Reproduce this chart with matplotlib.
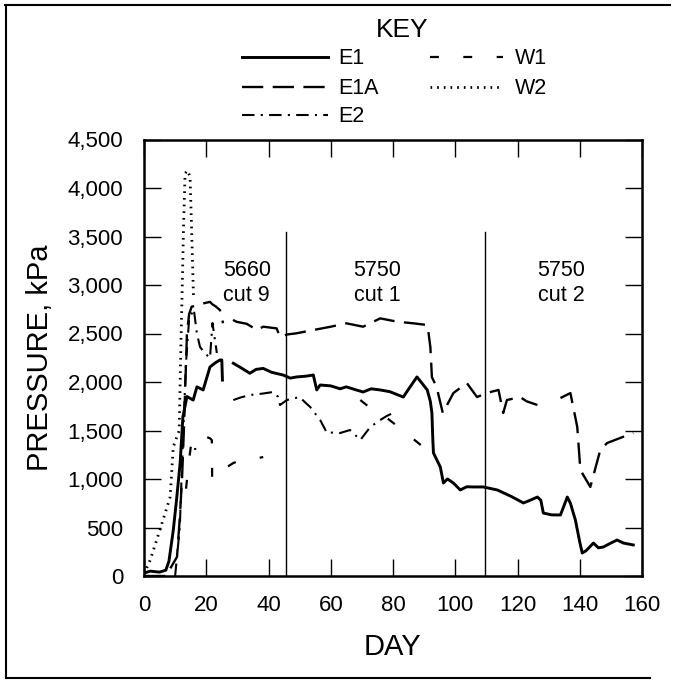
import numpy as np
import matplotlib
matplotlib.use("Agg")
import matplotlib.pyplot as plt
from matplotlib.lines import Line2D

plt.rcParams['font.family'] = ['Liberation Sans', 'DejaVu Sans']

nan = np.nan

# gauge readings (day, kPa); nan = gap in record
e1_day = [0, 2, 5, 7, 8, 9.4, 10.5, 11.6, 12.5, 13.8, 15.8, 17, 19, 21.2, 23, 24.4, 25, 25.2, 25.3,
          28.7, 31, 34, 36, 38.3, 41, 44.7, 47, 49, 52, 54.4, 55.5, 56.6, 60, 63, 65, 68, 70.4, 73,
          75.9, 79, 83.3, 85.5, 87.7, 89, 91, 92, 92.5, 92.8, 93, 95.2, 96.2, 97.5, 99.4, 101.6,
          103.7, 105.8, 109, 113.5, 118, 121.9, 124, 126.4, 127.5, 128.3, 131, 133.8, 136, 137,
          138.6, 140, 140.8, 142, 144.4, 146, 147.6, 150, 152, 154, 157.2]
e1_kpa = [30, 50, 40, 60, 150, 470, 800, 1160, 1640, 1850, 1814, 1950, 1918, 2155, 2200, 2227, 2227, 2020, nan,
          2193, 2150, 2090, 2130, 2140, 2100, 2072, 2040, 2052, 2060, 2072, 1918, 1969, 1960, 1930, 1950, 1920, 1897, 1930,
          1918, 1900, 1845, 1950, 2052, 2000, 1918, 1800, 1680, 1400, 1268, 1124, 959, 1000, 959, 887,
          920, 918, 918, 887, 820, 753, 780, 814, 780, 649, 630, 629, 814, 750,
          577, 350, 237, 260, 340, 290, 299, 340, 371, 340, 320]

e1a_day = [0, 7, 10.6, 11.5, 12.2, 12.8, 13.3, 13.8, 14.5, 15.3, 17, 19, 21.2, 22, 23, 24.4, 25.4, 26,
           28.6, 29.8, 33, 36.3, 38.3, 42.6, 43.7, 46, 49, 54.4, 60, 65, 70.4, 75.9, 81.3, 86.5, 91,
           91.3, 92, 92.5, 94, 96, 99.4, 103.7, 107, 110, 113.9, 115.4, 116.6, 120.8, 123, 126.4,
           130, 133.8, 137, 139.2, 140.2, 143.4, 146.6, 148.8, 153, 157.2]
e1a_kpa = [0, 0, 196, 600, 990, 1500, 2000, 2500, 2700, 2776, 2790, 2810, 2826, 2800, 2780, 2742, 2606, nan,
           2640, 2620, 2600, 2536, 2570, 2553, 2464, 2490, 2502, 2536, 2570, 2605, 2570, 2656, 2622, 2605, 2588,
           2536, 2360, 2050, 1950, 1680, 1886, 1990, 1845, 1886, 1918, 1680, 1814, 1845, 1800, 1763,
           nan, 1835, 1886, 1536, 1093, 918, 1299, 1371, 1423, 1474]

e2_day = [10, 11.5, 12.5, 13.5, 14.5, 16, 17, 18, 19.5, 21.2, 22, 23.4, 24,
          28.7, 31, 34, 38, 41.5, 43, 43.7, 45.9, 50, 52, 53.4, 56.6, 58.8, 61, 63, 66.2, 69.5, 72.7,
          75.9, 78, 80]
e2_kpa = [0, 500, 1400, 2200, 2650, 2750, 2500, 2361, 2300, 2247, 2608, 2299, nan,
          1814, 1840, 1866, 1880, 1897, 1850, 1763, 1814, 1845, 1783, 1742, 1608, 1474, 1480, 1474, 1505, 1402, 1536,
          1608, 1650, 1680]

w1_day = [13.5, 14.5, 15.5, 16.5, 17, 20.3, 21.2, 21.8, 21.9, 22.3, 23, 27, 28.7, 31, 34, 36, 38.3, 40,
          69.5, 72, 76, 80, 84.5, 87, 89.7, 92, 94]
w1_kpa = [900, 1200, 1450, 1300, nan, 1430, 1420, 1400, 1000, 800, nan, 1130, 1165, 1190, 1196, 1210, 1227, nan,
          1814, 1750, 1680, 1580, 1474, 1400, 1330, 1250, 1165]

w2_day = [0, 2, 5.1, 8.4, 9.4, 11.3, 11.8, 12.3, 12.7, 13.2, 14, 14.8, 15.3, 15.9]
w2_kpa = [20, 165, 474, 814, 1330, 1500, 2300, 3000, 3600, 4151, 4180, 4116, 3567, 2880]

cut_days = [45.5, 109.5]
cut_labels = [(33, "5660\ncut 9"), (75, "5750\ncut 1"), (134, "5750\ncut 2")]

W, H = 675, 680
fig = plt.figure(figsize=(W / 100, H / 100), dpi=100)
ax = fig.add_axes([144 / W, 1 - 576 / H, (642 - 144) / W, (576 - 139.5) / H])

styles = {
    "E1": dict(color="black", lw=2.1, linestyle="-"),
    "E1A": dict(color="black", lw=1.7, linestyle=(0, (9, 4))),
    "E2": dict(color="black", lw=1.5, linestyle=(0, (6, 3, 1, 3))),
    "W1": dict(color="black", lw=1.6, linestyle=(0, (4, 11))),
    "W2": dict(color="black", lw=2.0, linestyle=(0, (0.6, 1.8))),
}

ax.plot(e1_day, e1_kpa, **styles["E1"])
ax.plot(e1a_day, e1a_kpa, **styles["E1A"])
ax.plot(e2_day, e2_kpa, **styles["E2"])
ax.plot(w1_day, w1_kpa, **styles["W1"])
ax.plot(w2_day, w2_kpa, **styles["W2"])

for d in cut_days:
    ax.plot([d, d], [0, 3550], color="black", lw=1.0)
for d, txt in cut_labels:
    ax.text(d, 3020, txt, ha="center", va="center", fontsize=15.5, linespacing=1.25)

ax.set_xlim(0, 160)
ax.set_ylim(0, 4500)
ax.set_xticks(range(0, 161, 20))
ax.set_yticks(range(0, 4501, 500))
ax.set_yticklabels([f"{v:,}" for v in range(0, 4501, 500)])
ax.tick_params(direction="in", length=12, width=1.0, labelsize=16, top=True, right=True)
ax.tick_params(axis="y", pad=15)
ax.tick_params(axis="x", pad=14)
for s in ax.spines.values():
    s.set_linewidth(1.8)
ax.set_xlabel("DAY", fontsize=21, labelpad=12)
ax.set_ylabel("PRESSURE, kPa", fontsize=21, labelpad=10)

# legend drawn by hand in pixel positions of the scan
def px(x, y):
    return x / W, 1 - y / H

fig.text(*px(402, 30), "KEY", ha="center", va="center", fontsize=19)
legend_rows = [("E1", 242, 328, 338, 57), ("E1A", 242, 328, 338, 87), ("E2", 242, 328, 338, 115),
               ("W1", 430, 503, 515, 57), ("W2", 430, 503, 515, 87)]
for name, x0, x1, xt, y in legend_rows:
    (fx0, fy), (fx1, _) = px(x0, y), px(x1, y)
    fig.add_artist(Line2D([fx0, fx1], [fy, fy], transform=fig.transFigure, **styles[name]))
    fig.text(*px(xt, y + 2), name, ha="left", va="center", fontsize=15.5)

# scan border
for xs, ys in [([5, 670], [5, 5]), ([6, 6], [5, 678]), ([6, 650], [678, 678])]:
    fig.add_artist(Line2D([x / W for x in xs], [1 - y / H for y in ys], transform=fig.transFigure,
                          color="black", lw=1.5))

fig.savefig("out.png", dpi=100)
